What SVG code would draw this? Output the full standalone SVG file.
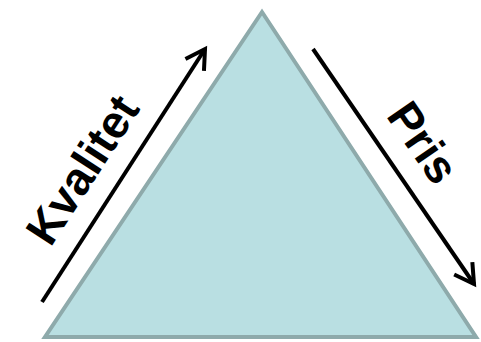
<svg xmlns="http://www.w3.org/2000/svg" width="481" height="342" viewBox="0 0 481 342">
  <style>
    .tri { fill: #b9dfe2; stroke: #8eaaab; stroke-width: 4; stroke-linejoin: miter; }
    .arrow { fill: none; stroke: #000000; stroke-width: 4; }
    .label { font-family: "Liberation Sans", Arial, sans-serif; font-weight: bold; font-size: 46px; fill: #000000; }
  </style>
  <defs>
    <marker id="head" markerUnits="userSpaceOnUse" markerWidth="40" markerHeight="40" viewBox="-30 -20 40 40" refX="0" refY="0" orient="auto">
      <path d="M -19 -11 L 0 0 L -19 11" fill="none" stroke="#000000" stroke-width="4" stroke-linejoin="miter"/>
    </marker>
  </defs>
  <g id="triangle">
    <polygon class="tri" points="262,12 45,337 476,337"/>
  </g>
  <g id="connectors">
    <line class="arrow" x1="42" y1="302" x2="205" y2="49" marker-end="url(#head)"/>
    <line class="arrow" x1="313" y1="49" x2="474" y2="284" marker-end="url(#head)"/>
  </g>
  <g id="label-kvalitet">
    <text class="label" text-anchor="middle" transform="translate(95.7,178.4) rotate(-57)">Kvalitet</text>
  </g>
  <g id="label-pris">
    <text class="label" text-anchor="middle" transform="translate(410,151.5) rotate(55.5)">Pris</text>
  </g>
</svg>
